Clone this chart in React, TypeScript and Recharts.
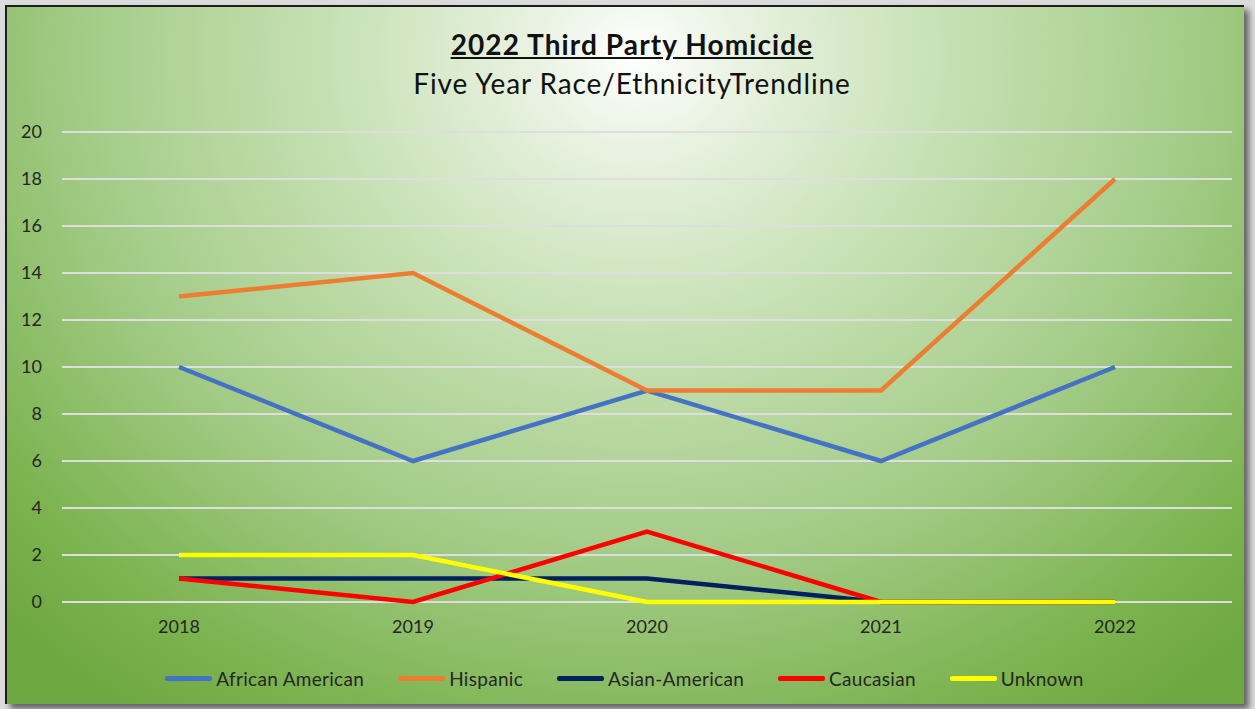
import { CartesianGrid, Legend, Line, LineChart, XAxis, YAxis } from "recharts";

const years = ["2018", "2019", "2020", "2021", "2022"];
const africanAmerican = [10, 6, 9, 6, 10];
const hispanic = [13, 14, 9, 9, 18];
const asianAmerican = [1, 1, 1, 0, 0];
const caucasian = [1, 0, 3, 0, 0];
const unknown = [2, 2, 0, 0, 0];
const yTicks = [0, 2, 4, 6, 8, 10, 12, 14, 16, 18, 20];

const series = [
  { key: "african", name: "African American", color: "#4472c4", values: africanAmerican },
  { key: "hispanic", name: "Hispanic", color: "#ed7d31", values: hispanic },
  { key: "asian", name: "Asian-American", color: "#002060", values: asianAmerican },
  { key: "caucasian", name: "Caucasian", color: "#ff0000", values: caucasian },
  { key: "unknown", name: "Unknown", color: "#ffff00", values: unknown },
];

const rows = years.map((year, i) => {
  const row: Record<string, string | number> = { year };
  series.forEach((s) => {
    row[s.key] = s.values[i];
  });
  return row;
});

const font = "Lato, 'Open Sans', sans-serif";

function LegendRow() {
  return (
    <div style={{ display: "flex", justifyContent: "center", alignItems: "center", height: 22, fontFamily: font, fontSize: 19, letterSpacing: 0.3, color: "#262626" }}>
      {series.map((s, i) => (
        <div key={s.key} style={{ display: "flex", alignItems: "center", marginRight: i < series.length - 1 ? 34 : 0 }}>
          <span style={{ display: "inline-block", width: 47, height: 5, borderRadius: 2, background: s.color, marginRight: 4 }} />
          <span>{s.name}</span>
        </div>
      ))}
    </div>
  );
}

export default function App() {
  return (
    <div style={{ position: "absolute", left: 0, top: 0, width: 1255, height: 709, background: "#dcdcdc", overflow: "hidden" }}>
      <div
        style={{
          position: "absolute",
          left: 5,
          top: 5,
          width: 1237,
          height: 697,
          borderTop: "2px solid #1e1e1e",
          borderLeft: "2px solid #1e1e1e",
          boxShadow: "5px 5px 6px rgba(0,0,0,0.55)",
          background:
            "radial-gradient(ellipse 72% 115% at 51% 7%, #ffffff 0%, #e8f2e1 12%, #c6e0b3 35%, #a4cc88 62%, #7bb34f 88%, #6ea841 100%)",
        }}
      >
        <div style={{ position: "absolute", left: 0, top: 18, width: 1250, textAlign: "center", fontFamily: font, color: "#111" }}>
          <div style={{ fontSize: 28, fontWeight: 700, letterSpacing: 1.1, textDecoration: "underline", lineHeight: "38px" }}>2022 Third Party Homicide</div>
          <div style={{ fontSize: 28, letterSpacing: 0.9, lineHeight: "40px" }}>Five Year Race/EthnicityTrendline</div>
        </div>
        <LineChart width={1237} height={697} data={rows} margin={{ top: 125, right: 12, left: 10, bottom: 40 }}>
          <CartesianGrid stroke="#dedede" strokeWidth={2} vertical={false} />
          <XAxis
            dataKey="year"
            axisLine={false}
            tickLine={false}
            tickSize={0}
            tickMargin={18}
            height={40}
            padding={{ left: 117, right: 117 }}
            tick={{ fill: "#262626", fontSize: 18, fontFamily: font }}
          />
          <YAxis
            domain={[0, 20]}
            ticks={yTicks}
            axisLine={false}
            tickLine={false}
            tickSize={0}
            tickMargin={20}
            width={45}
            tick={{ fill: "#262626", fontSize: 18, fontFamily: font }}
          />
          {series.map((s) => (
            <Line
              key={s.key}
              type="linear"
              dataKey={s.key}
              name={s.name}
              stroke={s.color}
              strokeWidth={4.5}
              dot={false}
              activeDot={false}
              isAnimationActive={false}
            />
          ))}
          <Legend verticalAlign="bottom" content={() => <LegendRow />} wrapperStyle={{ bottom: 15 }} />
        </LineChart>
      </div>
    </div>
  );
}
